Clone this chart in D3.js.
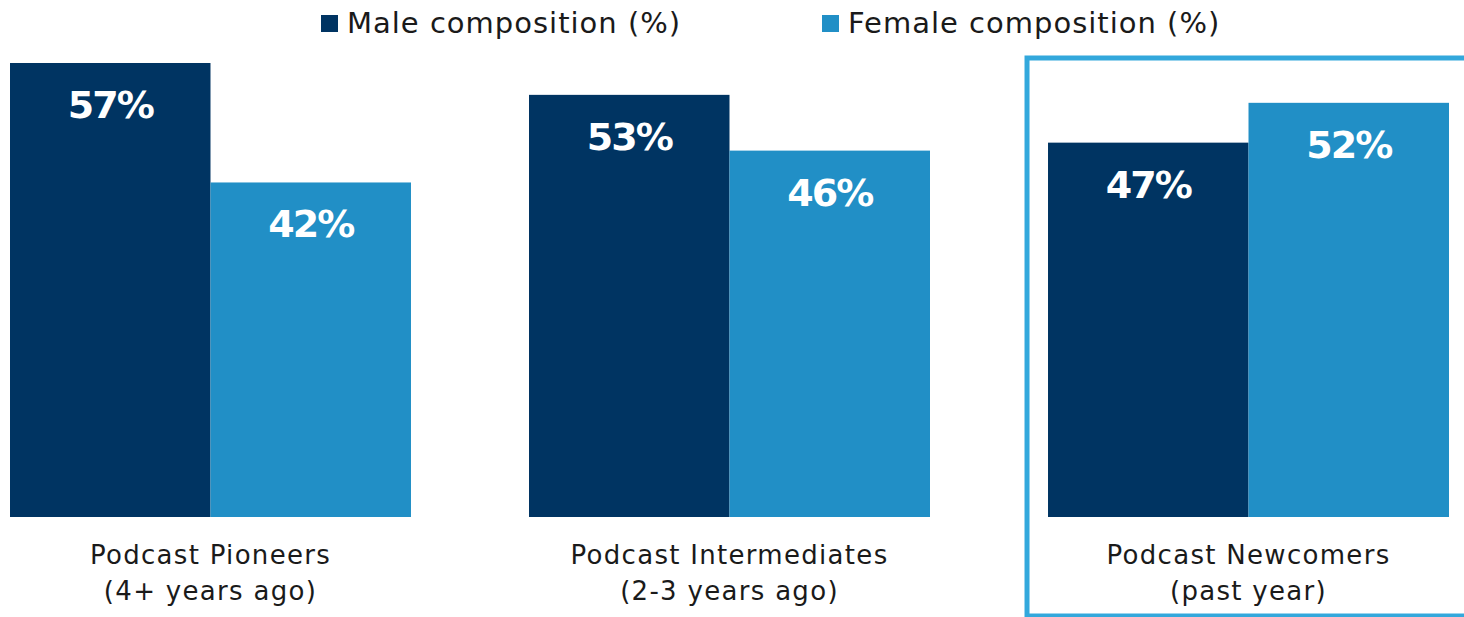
<!DOCTYPE html>
<html>
<head>
<meta charset="utf-8">
<script src="https://cdn.jsdelivr.net/npm/d3@7"></script>
<style>
  html, body { margin: 0; padding: 0; background: #fff; }
  svg { display: block; }
</style>
</head>
<body>
<svg id="chart" width="1464" height="617"></svg>
<script>
const categories = ["Podcast Pioneers\n(4+ years ago)", "Podcast Intermediates\n(2-3 years ago)", "Podcast Newcomers\n(past year)"];
const seriesNames = ["Male composition (%)", "Female composition (%)"];
const maleValues = [57, 53, 47];
const femaleValues = [42, 46, 52];
const colors = ["#003462", "#218fc6"];
const highlightIndex = 2;

const svg = d3.select("#chart");
const font = "'DejaVu Sans', sans-serif";

const x0 = d3.scaleBand().domain(d3.range(categories.length)).range([10, 1449]).paddingInner(0.2274).paddingOuter(0);
const x1 = d3.scaleBand().domain([0, 1]).range([0, x0.bandwidth()]).padding(0);
const y = d3.scaleLinear().domain([0, 60]).range([517, 517 - 60 * 7.965]);

const series = [maleValues, femaleValues];

// highlight frame
const hx = x0(highlightIndex) - 21;
svg.append("rect")
  .attr("x", hx).attr("y", 58)
  .attr("width", 1464 - hx + 10).attr("height", 616 - 58)
  .attr("fill", "none").attr("stroke", "#33a8dc").attr("stroke-width", 5);

const groups = svg.selectAll("g.grp").data(categories).enter().append("g")
  .attr("transform", (d, i) => `translate(${x0(i)},0)`);

groups.each(function(cat, i) {
  const g = d3.select(this);
  series.forEach((vals, s) => {
    const v = vals[i];
    g.append("rect")
      .attr("x", x1(s)).attr("y", y(v))
      .attr("width", x1.bandwidth()).attr("height", y(0) - y(v))
      .attr("fill", colors[s]);
    g.append("text")
      .attr("x", x1(s) + x1.bandwidth() / 2).attr("y", y(v) + 55)
      .attr("text-anchor", "middle")
      .attr("font-family", font).attr("font-weight", "bold")
      .attr("font-size", 38).attr("fill", "#fff")
      .attr("letter-spacing", -2)
      .text(v + "%");
  });
  const lines = cat.split("\n");
  lines.forEach((ln, k) => {
    g.append("text")
      .attr("x", x0.bandwidth() / 2).attr("y", 564 + k * 36)
      .attr("text-anchor", "middle")
      .attr("font-family", font).attr("font-size", 26).attr("fill", "#1a1a1a")
      .attr("letter-spacing", 1.3)
      .text(ln);
  });
});

// legend
const legendX = [321, 822];
seriesNames.forEach((name, s) => {
  svg.append("rect").attr("x", legendX[s]).attr("y", 15).attr("width", 17).attr("height", 17).attr("fill", colors[s]);
  svg.append("text").attr("x", legendX[s] + 26).attr("y", 33)
    .attr("font-family", font).attr("font-size", 29).attr("fill", "#1a1a1a")
    .attr("letter-spacing", 1)
    .text(name);
});
</script>
</body>
</html>
